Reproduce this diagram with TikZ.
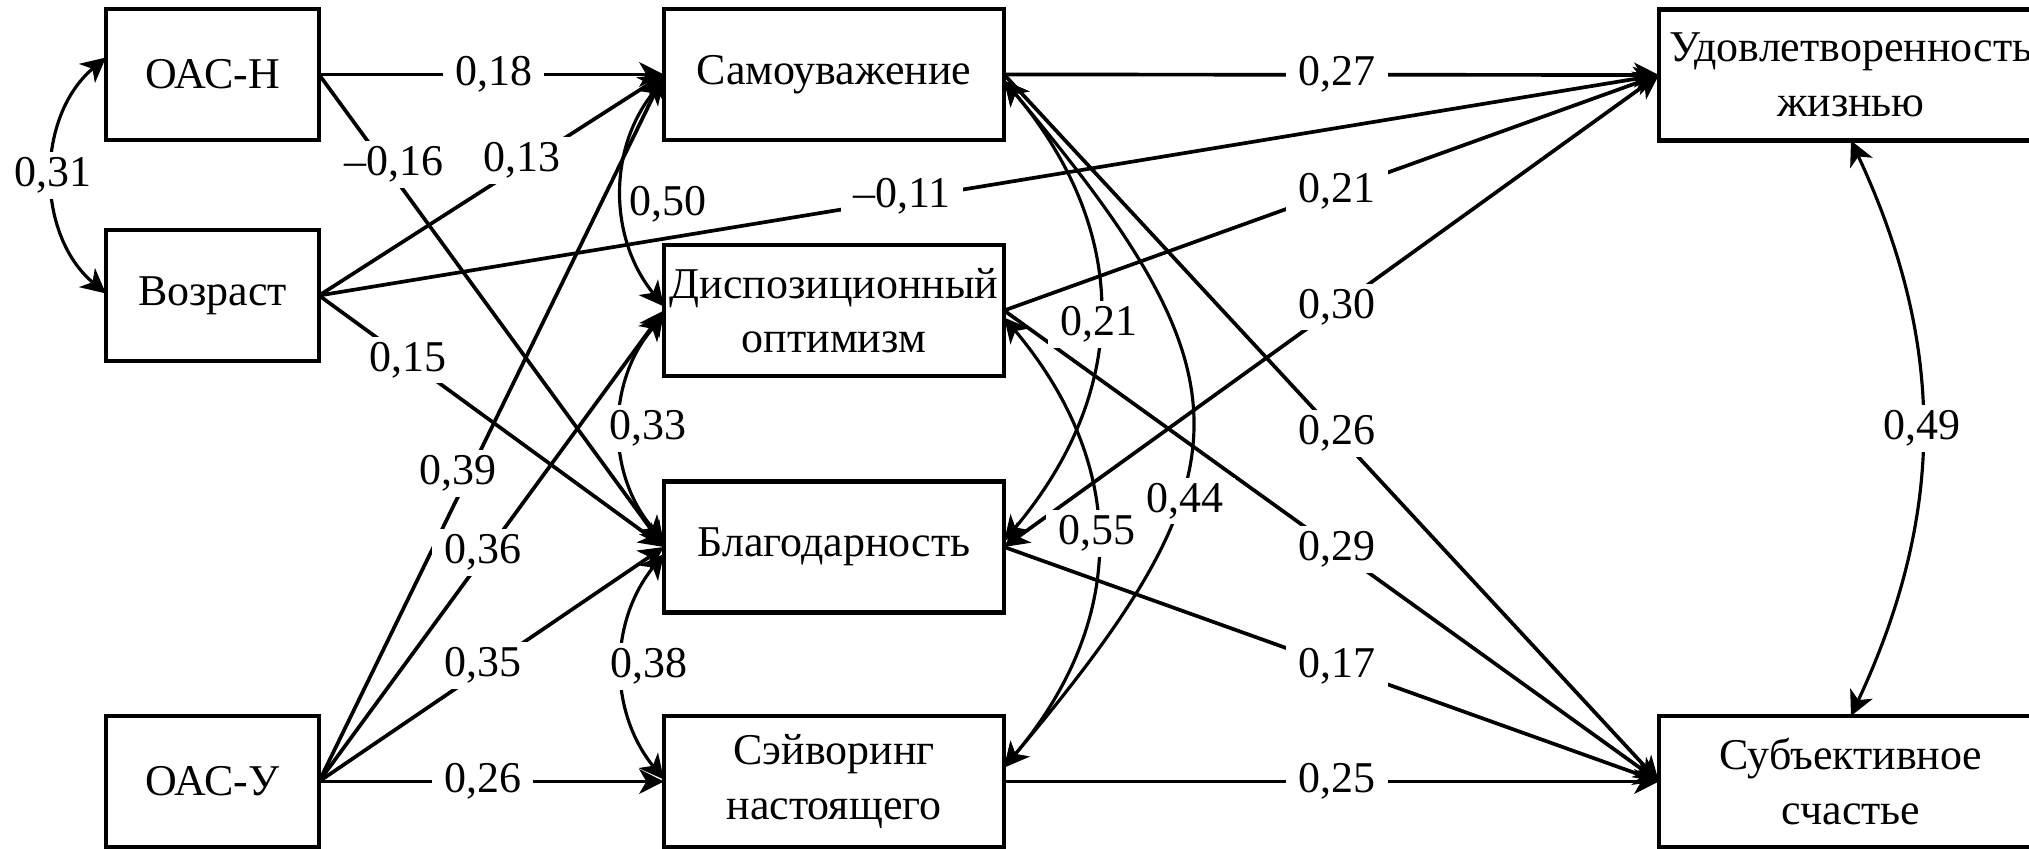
\documentclass[tikz,border=0pt]{standalone}
\usepackage{fontspec}
\setmainfont{Liberation Serif}
\usetikzlibrary{arrows.meta,calc}
\begin{document}
\tikzset{
  txt/.style={font=\fontsize{12.5pt}{15.5pt}\selectfont},
  box/.style={txt, draw, line width=1.2pt, minimum height=1.31cm, align=center, inner sep=0pt, outer sep=0pt},
  sbox/.style={box, minimum width=2.13cm},
  mbox/.style={box, minimum width=3.40cm},
  rbox/.style={box, minimum width=3.84cm},
  sar/.tip={Stealth[length=7pt,width=7pt,inset=2pt]},
  arr/.style={line width=1.05pt, -sar},
  darr/.style={line width=1.05pt, sar-sar},
  corr/.style={line width=0.9pt, sar-sar},
  lab/.style={txt, fill=white, inner xsep=3.5pt, inner ysep=1.5pt},
  clab/.style={txt, inner sep=0pt}
}
\begin{tikzpicture}[x=0.01cm,y=0.01cm]
\useasboundingbox (0,0) rectangle (2029,-849);
\clip (0,0) rectangle (2029,-849);
% boxes
\node[sbox] (onh) at (212.5,-74.5) {ОАС-Н};
\node[sbox] (voz) at (212.5,-295.5) {Возраст};
\node[sbox] (onu) at (212.5,-781.5) {ОАС-У};
\node[mbox] (sam) at (834,-74.5) {Самоуважение};
\node[mbox] (dis) at (834,-310.5) {Диспозиционный\\оптимизм};
\node[mbox] (bla) at (834,-547) {Благодарность};
\node[mbox] (sav) at (834,-781.5) {Сэйворинг\\настоящего};
\node[rbox] (udo) at (1851,-75) {Удовлетворенность\\жизнью};
\node[rbox] (sub) at (1851,-781.5) {Субъективное\\счастье};
% direct paths
\draw[arr] (onh.east) -- node[lab,pos=0.506]{0,18} (sam.west);
\draw[arr] (onh.east) -- node[lab,pos=0.19,xshift=0.09cm]{–0,16} (bla.west);
\draw[arr] (voz.east) -- node[lab,pos=0.61,xshift=-0.07cm]{0,13} (sam.west);
\draw[arr] (voz.east) -- node[lab,pos=0.435,yshift=0.03cm]{–0,11} (udo.west);
\draw[arr] (voz.east) -- node[lab,pos=0.257]{0,15} (bla.west);
\draw[arr] (onu.east) -- node[lab,pos=0.436,xshift=-0.11cm]{0,39} (sam.west);
\draw[arr] (onu.east) -- node[lab,pos=0.474,yshift=0.06cm]{0,36} (dis.west);
\draw[arr] (onu.east) -- node[lab,pos=0.474,yshift=0.05cm]{0,35} (bla.west);
\draw[arr] (onu.east) -- node[lab,pos=0.474]{0,26} (sav.west);
\draw[arr] (sam.east) -- node[lab,pos=0.508]{0,27} (udo.west);
\draw[arr] (dis.east) -- node[lab,pos=0.508]{0,21} (udo.west);
\draw[darr] (bla.east) -- node[lab,pos=0.508]{0,30} (udo.west);
\draw[arr] (sam.east) -- node[lab,pos=0.508]{0,26} (sub.west);
\draw[arr] (dis.east) -- node[lab,pos=0.508]{0,29} (sub.west);
\draw[arr] (bla.east) -- node[lab,pos=0.508]{0,17} (sub.west);
\draw[arr] (sav.east) -- node[lab,pos=0.508]{0,25} (sub.west);
% correlations
\draw[corr] ($(onh.west)+(0,17)$) to[bend right=50] node[lab,pos=0.5]{0,31} ($(voz.west)+(0,2)$);
\draw[corr] ($(sam.west)+(0,-5)$) to[bend right=39] node[clab,pos=0.5,anchor=west,xshift=0.06cm,yshift=-0.11cm]{0,50} ($(dis.west)+(0,4)$);
\draw[corr] ($(dis.west)+(0,-5)$) to[bend right=41] node[lab,pos=0.5,xshift=0.27cm]{0,33} ($(bla.west)+(0,6)$);
\draw[corr] ($(bla.west)+(0,-7)$) to[bend right=39] node[lab,pos=0.5,xshift=0.27cm]{0,38} ($(sav.west)+(0,2)$);
\draw[corr] ($(sam.east)+(0,-6)$) to[bend left=40,looseness=1.1] node[lab,pos=0.53]{0,21} ($(bla.east)+(0,6)$);
\draw[corr] ($(sam.east)+(0,-6)$) to[bend left=40,looseness=1.45] node[lab,pos=0.63,xshift=0.06cm]{0,44} ($(sav.east)+(0,14)$);
\draw[corr] ($(dis.east)+(0,-7)$) to[bend left=40,looseness=1.1] node[lab,pos=0.48]{0,55} ($(sav.east)+(0,14)$);
\draw[corr] (udo.south) to[bend left=25] node[lab,pos=0.5]{0,49} (sub.north);
\end{tikzpicture}
\end{document}
